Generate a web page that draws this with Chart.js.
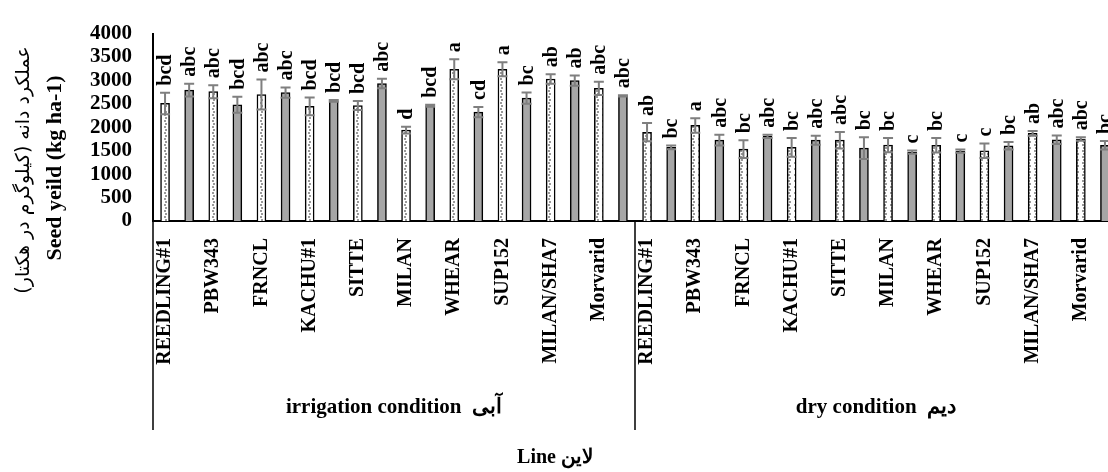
<!DOCTYPE html>
<html>
<head>
<meta charset="utf-8">
<script src="https://cdn.jsdelivr.net/npm/chart.js@4.4.1/dist/chart.umd.min.js"></script>
<style>
  html, body { margin: 0; padding: 0; overflow: hidden; background: #fff; }
  canvas { display: block; }
</style>
</head>
<body>
<canvas id="chart" width="1120" height="472"></canvas>
<script>
// line names, only every other one is labelled on the original axis
const lines = ['REEDLING#1', '', 'PBW343', '', 'FRNCL', '', 'KACHU#1', '', 'SITTE', '',
  'MILAN', '', 'WHEAR', '', 'SUP152', '', 'MILAN/SHA7', '', 'Morvarid', ''];
const conditions = ['irrigation condition  آبی', 'dry condition  دیم'];

const irrigationYield = [2510, 2795, 2760, 2480, 2700, 2740, 2445, 2565, 2465, 2935,
  1940, 2460, 3240, 2325, 3240, 2625, 3030, 2995, 2830, 2670];
const irrigationErr = [230, 135, 140, 170, 320, 110, 190, 20, 95, 100,
  70, 20, 215, 110, 150, 120, 100, 110, 140, 15];
const irrigationLetters = ['bcd', 'abc', 'abc', 'bcd', 'abc', 'abc', 'bcd', 'bcd', 'bcd', 'abc',
  'd', 'bcd', 'a', 'cd', 'a', 'bc', 'ab', 'ab', 'abc', 'abc'];

const dryYield = [1895, 1570, 2040, 1725, 1535, 1805, 1570, 1725, 1725, 1555,
  1620, 1470, 1615, 1490, 1500, 1605, 1870, 1735, 1750, 1615];
const dryErr = [195, 40, 155, 115, 190, 35, 200, 95, 175, 230,
  150, 35, 155, 35, 155, 80, 50, 90, 35, 90];
const dryLetters = ['ab', 'bc', 'a', 'abc', 'bc', 'abc', 'bc', 'abc', 'abc', 'bc',
  'bc', 'c', 'bc', 'c', 'c', 'bc', 'ab', 'abc', 'abc', 'bc'];

const yTicks = [0, 500, 1000, 1500, 2000, 2500, 3000, 3500, 4000];

const labels = lines.concat(lines);
const yields = irrigationYield.concat(dryYield);
const errors = irrigationErr.concat(dryErr);
const letters = irrigationLetters.concat(dryLetters);

const SERIF = '"Liberation Serif", "Times New Roman", serif';

function dotted() {
  const c = document.createElement('canvas');
  c.width = 6; c.height = 6;
  const g = c.getContext('2d');
  g.fillStyle = '#fff';
  g.fillRect(0, 0, 6, 6);
  g.fillStyle = '#999';
  g.fillRect(2, 0, 2, 2);
  g.fillRect(3, 3, 2, 2);
  return g.createPattern(c, 'repeat');
}
const pattern = dotted();

const errorBars = {
  id: 'errorBars',
  afterDatasetsDraw(chart) {
    const ctx = chart.ctx;
    const y = chart.scales.y;
    chart.getDatasetMeta(0).data.forEach((bar, i) => {
      const top = y.getPixelForValue(yields[i] + errors[i]);
      const bot = y.getPixelForValue(yields[i] - errors[i]);
      ctx.save();
      ctx.strokeStyle = '#7f7f7f';
      ctx.lineWidth = 2;
      ctx.beginPath();
      ctx.moveTo(bar.x, top); ctx.lineTo(bar.x, bot);
      ctx.moveTo(bar.x - 5, top); ctx.lineTo(bar.x + 5, top);
      ctx.moveTo(bar.x - 5, bot); ctx.lineTo(bar.x + 5, bot);
      ctx.stroke();
      ctx.translate(bar.x + 1, top - 7);
      ctx.rotate(-Math.PI / 2);
      ctx.fillStyle = '#000';
      ctx.font = 'bold 20px ' + SERIF;
      ctx.textAlign = 'left';
      ctx.textBaseline = 'middle';
      ctx.fillText(letters[i], 0, 0);
      ctx.restore();
    });
  }
};

const extras = {
  id: 'extras',
  afterDraw(chart) {
    const ctx = chart.ctx;
    const a = chart.chartArea;
    const x = chart.scales.x;
    const mid = (x.getPixelForValue(19) + x.getPixelForValue(20)) / 2;
    ctx.save();
    ctx.strokeStyle = '#000';
    ctx.lineWidth = 1.5;
    ctx.beginPath();
    [a.left, mid, a.right].forEach(px => {
      ctx.moveTo(px, a.bottom);
      ctx.lineTo(px, 430);
    });
    ctx.stroke();

    ctx.fillStyle = '#000';
    ctx.textAlign = 'center';
    ctx.textBaseline = 'middle';
    ctx.font = 'bold 21px ' + SERIF;
    ctx.fillText(conditions[0], (a.left + mid) / 2, 408);
    ctx.fillText(conditions[1], (mid + a.right) / 2, 408);
    ctx.font = 'bold 20px ' + SERIF;
    ctx.fillText('Line لاین', 555, 458);

    // two line y axis title
    ctx.translate(55, 168);
    ctx.rotate(-Math.PI / 2);
    ctx.font = 'bold 22px ' + SERIF;
    ctx.fillText('Seed yeild (kg ha-1)', 0, 0);
    ctx.restore();

    ctx.save();
    ctx.translate(24, 170);
    ctx.rotate(-Math.PI / 2);
    ctx.fillStyle = '#000';
    ctx.direction = 'rtl';
    ctx.textAlign = 'center';
    ctx.textBaseline = 'middle';
    ctx.font = '19px "DejaVu Sans", sans-serif';
    ctx.fillText('عملکرد دانه (کیلوگرم در هکتار)', 0, 0);
    ctx.restore();
  }
};

new Chart(document.getElementById('chart'), {
  type: 'bar',
  data: {
    labels: labels,
    datasets: [{
      data: yields,
      backgroundColor: yields.map((v, i) => i % 2 === 0 ? pattern : '#a6a6a6'),
      borderColor: '#000',
      borderWidth: 1.5,
      barThickness: 9
    }]
  },
  options: {
    responsive: false,
    animation: false,
    layout: { padding: { top: 23, right: 3, left: 0, bottom: 0 } },
    plugins: { legend: { display: false }, tooltip: { enabled: false } },
    scales: {
      x: {
        grid: { display: false, drawTicks: false },
        border: { color: '#000', width: 2 },
        ticks: {
          autoSkip: false,
          minRotation: 90,
          maxRotation: 90,
          padding: 17,
          color: '#000',
          font: { family: SERIF, size: 20, weight: 'bold' }
        },
        afterFit(s) {
          s.height = 251;
          s.paddingLeft = 0;
          s.paddingRight = 0;
        }
      },
      y: {
        min: 0,
        max: 4000,
        afterBuildTicks(s) { s.ticks = yTicks.map(v => ({ value: v })); },
        grid: { display: false, drawTicks: false },
        border: { color: '#000', width: 2 },
        ticks: {
          autoSkip: false,
          padding: 21,
          color: '#000',
          font: { family: SERIF, size: 21, weight: 'bold' },
          callback: v => String(v)
        },
        afterFit(s) { s.width = 153; }
      }
    }
  },
  plugins: [errorBars, extras]
});
</script>
</body>
</html>
